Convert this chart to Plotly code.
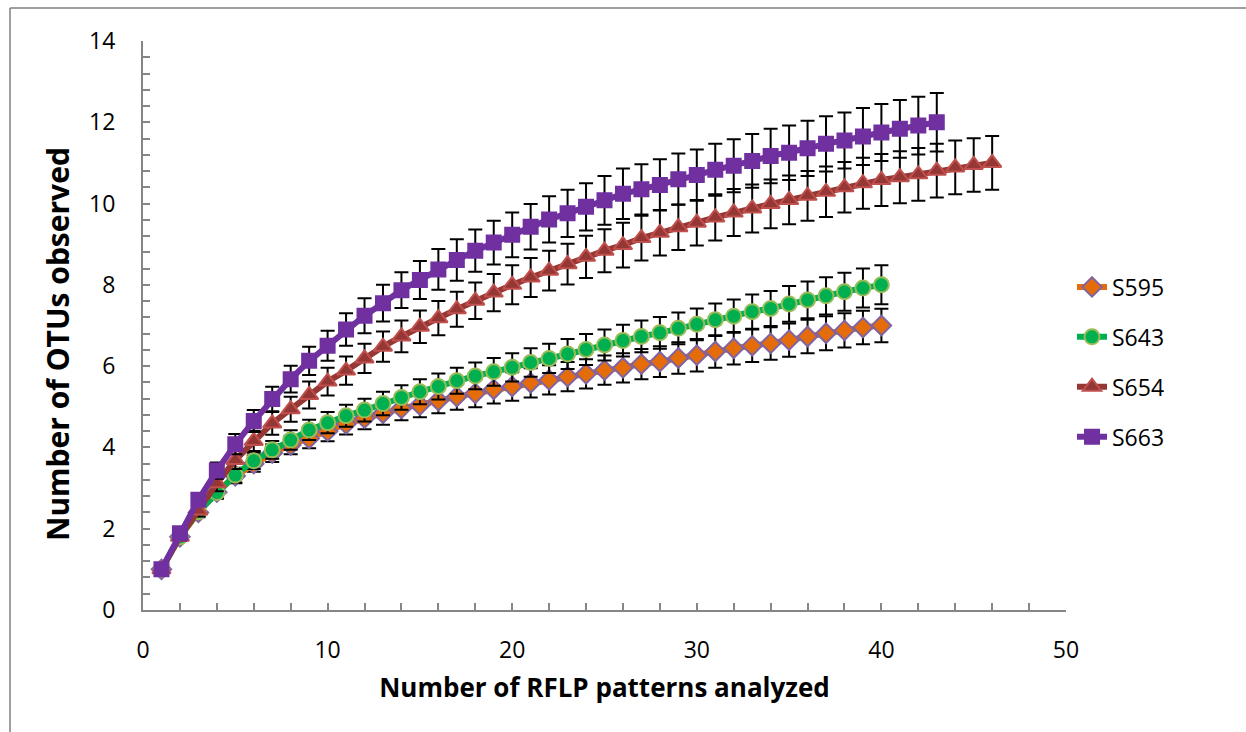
import plotly.graph_objects as go

patterns = list(range(1, 47))

series_names = ["S595", "S643", "S654", "S663"]

s595 = [1.0, 1.8, 2.4, 2.9, 3.3, 3.6, 3.86, 4.06, 4.22, 4.4, 4.58, 4.72, 4.84, 4.96, 5.04, 5.15,
        5.25, 5.33, 5.43, 5.5, 5.59, 5.66, 5.74, 5.81, 5.9, 5.96, 6.05, 6.11, 6.2, 6.27, 6.36,
        6.44, 6.5, 6.56, 6.64, 6.73, 6.81, 6.88, 6.95, 7.0]
s643 = [1.0, 1.8, 2.42, 2.89, 3.32, 3.67, 3.94, 4.18, 4.43, 4.61, 4.78, 4.92, 5.08, 5.23, 5.37,
        5.5, 5.64, 5.76, 5.86, 5.97, 6.09, 6.19, 6.3, 6.41, 6.52, 6.63, 6.73, 6.82, 6.93, 7.03,
        7.14, 7.23, 7.34, 7.42, 7.53, 7.63, 7.73, 7.83, 7.92, 8.0]
s654 = [1.0, 1.8, 2.45, 3.12, 3.69, 4.16, 4.59, 4.94, 5.29, 5.62, 5.89, 6.19, 6.48, 6.73, 6.97,
        7.18, 7.4, 7.61, 7.81, 8.0, 8.18, 8.35, 8.51, 8.69, 8.84, 8.98, 9.15, 9.28, 9.42, 9.53,
        9.66, 9.78, 9.88, 9.99, 10.09, 10.19, 10.29, 10.4, 10.5, 10.58, 10.65, 10.72, 10.81,
        10.89, 10.95, 11.0]
s663 = [1.0, 1.89, 2.71, 3.43, 4.08, 4.65, 5.19, 5.68, 6.13, 6.5, 6.9, 7.24, 7.55, 7.87, 8.12,
        8.38, 8.61, 8.84, 9.04, 9.23, 9.43, 9.61, 9.76, 9.92, 10.08, 10.24, 10.35, 10.46, 10.6,
        10.7, 10.83, 10.93, 11.05, 11.17, 11.25, 11.36, 11.47, 11.55, 11.65, 11.75, 11.84,
        11.92, 12.0]

err595 = [0, 0.08, 0.12, 0.15, 0.18, 0.2, 0.22, 0.23, 0.24, 0.25, 0.26, 0.27, 0.28, 0.29, 0.3,
          0.31, 0.32, 0.34, 0.35, 0.35, 0.36, 0.36, 0.36, 0.36, 0.36, 0.36, 0.37, 0.38, 0.39,
          0.4, 0.4, 0.4, 0.4, 0.4, 0.41, 0.41, 0.42, 0.42, 0.41, 0.41]
err643 = [0, 0.08, 0.12, 0.15, 0.18, 0.2, 0.22, 0.24, 0.25, 0.26, 0.27, 0.28, 0.29, 0.3, 0.31,
          0.32, 0.32, 0.33, 0.34, 0.35, 0.35, 0.36, 0.37, 0.38, 0.38, 0.39, 0.39, 0.39, 0.39,
          0.39, 0.4, 0.41, 0.42, 0.43, 0.44, 0.45, 0.46, 0.47, 0.48, 0.48]
err654 = [0, 0.1, 0.15, 0.2, 0.22, 0.25, 0.28, 0.31, 0.33, 0.34, 0.35, 0.36, 0.37, 0.39, 0.4,
          0.42, 0.43, 0.45, 0.46, 0.48, 0.48, 0.49, 0.5, 0.52, 0.53, 0.55, 0.55, 0.56, 0.56,
          0.56, 0.57, 0.58, 0.59, 0.6, 0.6, 0.61, 0.62, 0.62, 0.63, 0.64, 0.64, 0.65, 0.66,
          0.66, 0.66, 0.66]
err663 = [0, 0.1, 0.15, 0.2, 0.25, 0.27, 0.3, 0.33, 0.35, 0.37, 0.4, 0.43, 0.45, 0.44, 0.47,
          0.5, 0.51, 0.52, 0.54, 0.55, 0.56, 0.57, 0.58, 0.58, 0.6, 0.62, 0.62, 0.63, 0.63,
          0.63, 0.64, 0.65, 0.66, 0.67, 0.67, 0.68, 0.68, 0.69, 0.7, 0.7, 0.71, 0.71, 0.72]

x_ticks = [0, 10, 20, 30, 40, 50]
y_ticks = [0, 2, 4, 6, 8, 10, 12, 14]

styles = [
    dict(line="#E46C0A", fill="#E46C0A", edge="#8064A2", symbol="diamond", size=15),
    dict(line="#00B050", fill="#00B050", edge="#9BBB59", symbol="circle", size=15),
    dict(line="#953735", fill="#953735", edge="#C0504D", symbol="triangle-up", size=16),
    dict(line="#7030A0", fill="#7030A0", edge="#7030A0", symbol="square", size=14),
]

values = [s595, s643, s654, s663]
errors = [err595, err643, err654, err663]

FONT = "'Open Sans', Lato, sans-serif"

fig = go.Figure()
for name, vals, errs, st in zip(series_names, values, errors, styles):
    fig.add_trace(go.Scatter(
        x=patterns[:len(vals)], y=vals, name=name, mode="lines+markers",
        legendgroup=name,
        line=dict(color=st["line"], width=6),
        marker=dict(symbol=st["symbol"], size=st["size"], color=st["fill"],
                    line=dict(color=st["edge"], width=2)),
        error_y=dict(type="data", array=errs, visible=True, color="black",
                     thickness=2, width=7),
    ))

axis_common = dict(
    showline=True, linecolor="#868686", linewidth=2,
    ticks="inside", ticklen=7, tickcolor="#868686", tickwidth=2,
    showgrid=False, zeroline=False,
    tickfont=dict(family=FONT, size=23, color="black"),
)

fig.update_xaxes(range=[0, 50], tickvals=x_ticks, ticklabelstandoff=18,
                 minor=dict(dtick=2, ticks="inside", ticklen=7, tickcolor="#868686", tickwidth=2),
                 title=dict(text="<b>Number of RFLP patterns analyzed</b>",
                            font=dict(family=FONT, size=26, color="black"), standoff=15),
                 **axis_common)
fig.update_yaxes(range=[0, 14], tickvals=y_ticks, ticklabelstandoff=21,
                 minor=dict(dtick=0.4, ticks="inside", ticklen=7, tickcolor="#868686", tickwidth=2),
                 **axis_common)

pw, ph = 923.0, 569.0
def px_x(p):
    return (p - 143) / pw
def px_y(p):
    return (610 - p) / ph

fig.add_annotation(text="<b>Number of OTUs observed</b>", textangle=-90,
                   xref="paper", yref="paper", x=px_x(57), y=px_y(344),
                   xanchor="center", yanchor="middle",
                   showarrow=False, font=dict(family=FONT, size=30, color="black"))

# outer frame (left and top edges visible in the original)
fig.add_shape(type="line", xref="paper", yref="paper",
              x0=px_x(10), y0=px_y(740), x1=px_x(10), y1=px_y(8),
              line=dict(color="#7F7F7F", width=1.5))
fig.add_shape(type="line", xref="paper", yref="paper",
              x0=px_x(10), y0=px_y(8), x1=px_x(1250), y1=px_y(8),
              line=dict(color="#7F7F7F", width=1.5))

fig.update_layout(
    width=1246, height=732,
    margin=dict(l=143, r=180, t=41, b=122),
    plot_bgcolor="white", paper_bgcolor="white",
    showlegend=True,
    legend=dict(x=px_x(1072), y=px_y(362), xanchor="left", yanchor="middle",
                traceorder="grouped", tracegroupgap=17,
                font=dict(family=FONT, size=23, color="black"),
                bgcolor="rgba(0,0,0,0)"),
)

fig.write_html("out.html")
